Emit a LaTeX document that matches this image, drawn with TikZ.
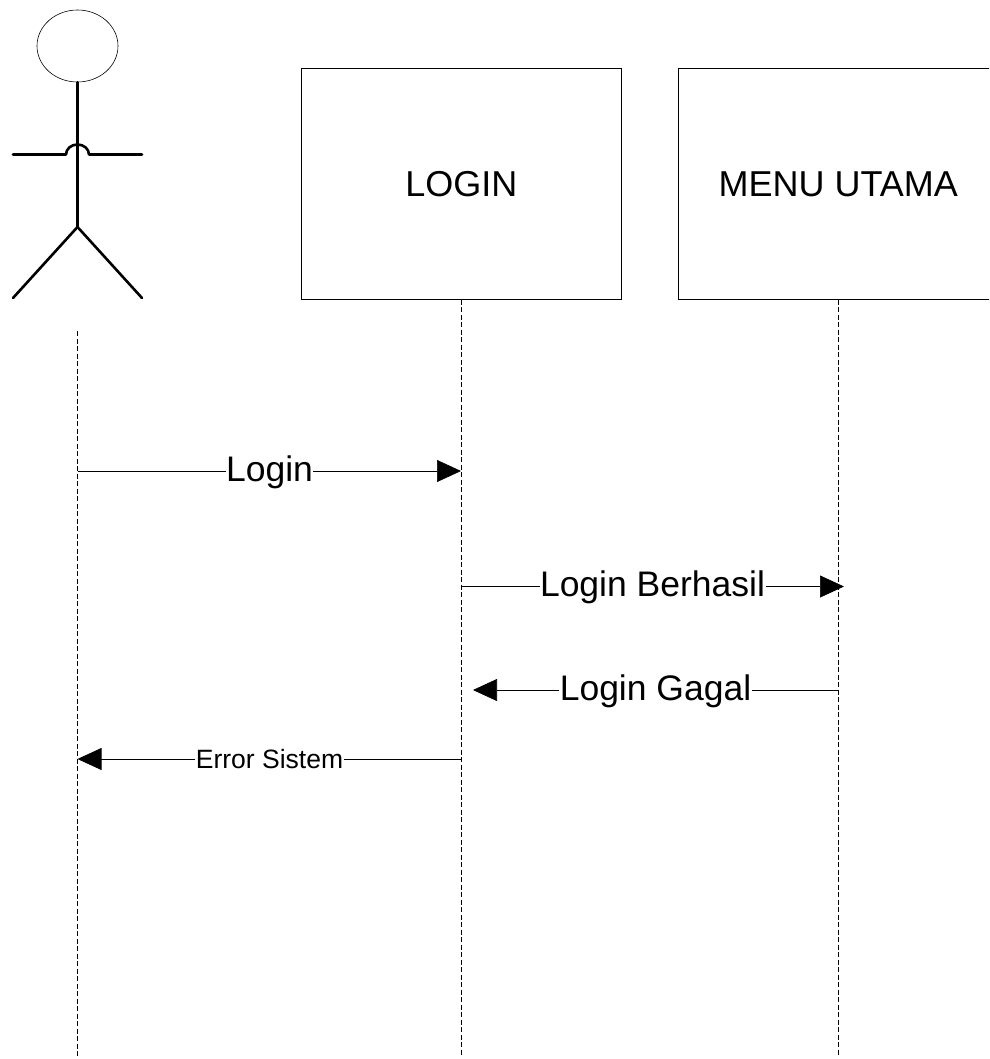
\documentclass[tikz,border=0pt]{standalone}
\usepackage{fontspec}
\setmainfont{Liberation Sans}
\usetikzlibrary{arrows.meta,shapes.geometric}
\tikzset{
  box/.style={draw,line width=0.6pt,minimum width=320pt,minimum height=231pt,inner sep=0pt,font=\fontsize{36}{40}\selectfont},
  life/.style={draw,line width=0.6pt,dash pattern=on 5pt off 2.5pt},
  msg/.style={line width=0.7pt,-{Triangle[length=24pt,width=22pt]}},
  lbl/.style={fill=white,inner xsep=0.5pt,inner ysep=0pt,font=\fontsize{35.5}{40}\selectfont},
  actor/.style={line width=2.6pt,line cap=round,line join=round}
}
\begin{document}
\begin{tikzpicture}[x=1pt,y=-1pt]
\useasboundingbox (0,0) rectangle (989,1059);
\clip (0,0) rectangle (989,1059);
\node[box,anchor=north west] (login) at (301,68) {LOGIN};
\node[box,anchor=north west] (menu) at (678,68) {MENU UTAMA};
\node[draw,ellipse,line width=0.6pt,minimum width=81pt,minimum height=72pt,inner sep=0pt] (head) at (77.5,46) {};
% actor
\coordinate (hip) at (77.5,227);
\coordinate (footL) at (13,298);
\coordinate (footR) at (142,298);
\coordinate (armL) at (13,154.5);
\coordinate (armR) at (142,154.5);
\draw[actor] (head.south) -- (hip);
\draw[actor] (hip) -- (footL);
\draw[actor] (hip) -- (footR);
\draw[actor] (armL) -- (66,154.5) arc[start angle=180,end angle=0,x radius=11.5pt,y radius=10pt] -- (armR);
% lifelines
\coordinate (a0) at (77.5,331);
\coordinate (a1) at (77.5,1056);
\coordinate (l1) at (461,1056);
\coordinate (m1) at (838,1056);
\draw[life] (a0) -- (a1);
\draw[life] (login.south -| l1) -- (l1);
\draw[life] (menu.south -| m1) -- (m1);
% messages
\coordinate (m1a) at (77.5,471);
\coordinate (m1b) at (461,471);
\coordinate (m2a) at (461,586.5);
\coordinate (m2b) at (844,586.5);
\coordinate (m3a) at (838,690);
\coordinate (m3b) at (473,690);
\coordinate (m4a) at (461,759);
\coordinate (m4b) at (77.5,759);
\draw[msg] (m1a) -- (m1b);
\draw[msg] (m2a) -- (m2b);
\draw[msg] (m3a) -- (m3b);
\draw[msg] (m4a) -- (m4b);
\node[lbl] (t1) at (269.5,472) {Login};
\node[lbl] (t2) at (652.5,587.5) {Login Berhasil};
\node[lbl] (t3) at (655.5,691) {Login Gagal};
\node[lbl,font=\fontsize{26.5}{30}\selectfont] (t4) at (269.5,759) {Error Sistem};
\end{tikzpicture}
\end{document}
